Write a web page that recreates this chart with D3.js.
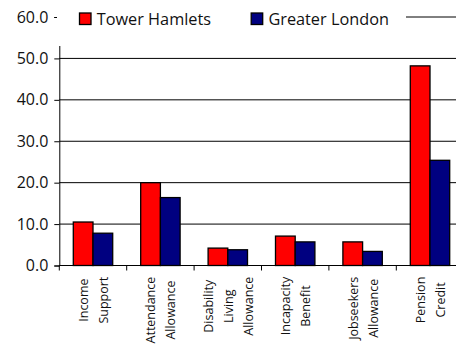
<!DOCTYPE html>
<html><head><meta charset="utf-8">
<script src="https://cdn.jsdelivr.net/npm/d3@7"></script>
<style>html,body{margin:0;padding:0;background:#fff;overflow:hidden}</style>
</head><body>
<svg id="c" width="456" height="346"></svg>
<script>
const categories = [["Income","Support"],["Attendance","Allowance"],["Disability","Living","Allowance"],["Incapacity","Benefit"],["Jobseekers","Allowance"],["Pension","Credit"]];
const series = ["Tower Hamlets","Greater London"];
const towerHamlets = [10.5, 20.0, 4.2, 7.1, 5.7, 48.2];
const greaterLondon = [7.8, 16.4, 3.8, 5.7, 3.4, 25.4];
const colors = ["#FF0000","#000080"];
const yTicks = [0,10,20,30,40,50,60];

(function(){
const svg = d3.select("#c");
const font = "'Open Sans', sans-serif";
const pLeft = 59.3, pRight = 463.7, pBottom = 265.5, pTop = 17;
const keys = categories.map((c,i)=>i);
const x = d3.scaleBand().domain(keys).range([pLeft,pRight]).padding(0);
const x1 = d3.scaleBand().domain(series).range([0,x.bandwidth()]).paddingInner(0).paddingOuter(0.71);
const y = d3.scaleLinear().domain([0,60]).range([pBottom,pTop]);
const values = [towerHamlets, greaterLondon];

// gridlines
svg.append("g").selectAll("line").data(yTicks.filter(d=>d>0)).join("line")
  .attr("x1",pLeft).attr("x2",pRight).attr("y1",d=>y(d)).attr("y2",d=>y(d))
  .attr("stroke","#000").attr("stroke-width",1);

// bars
const g = svg.append("g");
series.forEach((s,si)=>{
  g.append("g").selectAll("rect").data(values[si]).join("rect")
    .attr("x",(d,i)=>x(i)+x1(s)).attr("width",x1.bandwidth())
    .attr("y",d=>y(d)).attr("height",d=>y(0)-y(d))
    .attr("fill",colors[si]).attr("stroke","#000").attr("stroke-width",1.3);
});

// y axis
const yAxis = d3.axisLeft(y).tickValues(yTicks).tickSize(5).tickPadding(6).tickFormat(d3.format(".1f"));
const ya = svg.append("g").attr("transform",`translate(${pLeft},0)`).call(yAxis);
ya.select(".domain").attr("stroke","#000");
ya.selectAll("text").attr("font-family",font).attr("font-size","16px").attr("fill","#111");

// x axis
const xa = svg.append("g").attr("transform",`translate(0,${pBottom})`);
xa.append("line").attr("x1",pLeft).attr("x2",pRight).attr("stroke","#000");
xa.selectAll("line.t").data(keys).join("line").attr("class","t")
  .attr("x1",d=>x(d)).attr("x2",d=>x(d)).attr("y1",0).attr("y2",5).attr("stroke","#000");

// category labels
keys.forEach(i=>{
  const lines = categories[i];
  const cx = x(i)+x.bandwidth()/2;
  const grp = svg.append("g");
  const texts = lines.map((t,li)=>grp.append("text").text(t)
     .attr("font-family",font).attr("font-size","12.5px").attr("fill","#111")
     .attr("text-anchor","middle"));
  const maxW = d3.max(texts, t=>t.node().getComputedTextLength());
  const cy = 276.7 + maxW/2;
  const n = lines.length;
  texts.forEach((t,li)=>{
    const bx = cx - 10*(n-1) + 5 + 20*li;
    t.attr("transform",`translate(${bx},${cy}) rotate(-90)`);
  });
});

// legend box (covers top of plot)
svg.append("rect").attr("x",57).attr("y",0).attr("width",349).attr("height",46).attr("fill","#fff");
const legX = [79, 250.7];
series.forEach((s,si)=>{
  svg.append("rect").attr("x",legX[si]+0.5).attr("y",13).attr("width",11.5).attr("height",11.5)
    .attr("fill",colors[si]).attr("stroke","#000").attr("stroke-width",1.3);
  svg.append("text").attr("x",legX[si]+17.7).attr("y",19).attr("dy","0.36em")
    .attr("font-family",font).attr("font-size","16.3px").attr("fill","#111").text(s);
});
})();
</script>
</body></html>
